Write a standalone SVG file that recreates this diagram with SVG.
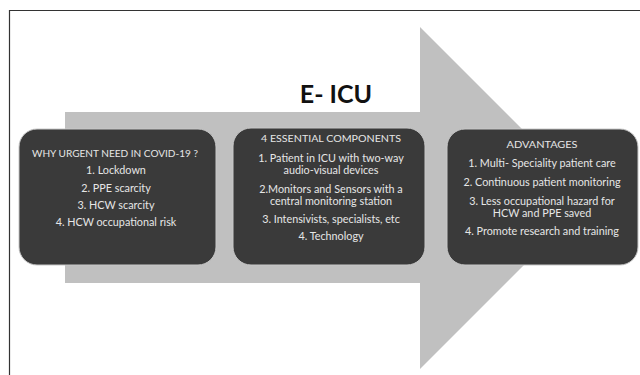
<svg xmlns="http://www.w3.org/2000/svg" width="640" height="375" viewBox="0 0 640 375">
<style>
.box{fill:#3a3a3a;stroke:#c8c8c8;stroke-width:1}
.t{font-family:Lato,"Liberation Sans",sans-serif;font-size:10.8px;fill:#e6e6e6;text-anchor:middle}
.h{font-size:10.4px}
.title{font-family:Lato,"Liberation Sans",sans-serif;font-size:25px;font-weight:bold;fill:#111;text-anchor:middle}
</style>
<rect width="640" height="375" fill="#fff"/>
<path d="M9.5 375 V10.5 H640" fill="none" stroke="#333" stroke-width="1.2"/>
<g id="arrow">
<polygon points="65,112 420,112 420,27 591,198 420,369 420,283 65,283" fill="#c0c0c0"/>
<text class="title" x="336" y="103">E- ICU</text>
</g>
<g id="box1">
<rect class="box" x="19" y="129" width="197" height="136" rx="18"/>
<text class="t h" x="115" y="157" textLength="166" lengthAdjust="spacingAndGlyphs">WHY URGENT NEED IN COVID-19 ?</text>
<text class="t" x="116" y="174">1. Lockdown</text>
<text class="t" x="116" y="192">2. PPE scarcity</text>
<text class="t" x="116" y="209">3. HCW scarcity</text>
<text class="t" x="116" y="226">4. HCW occupational risk</text>
</g>
<g id="box2">
<rect class="box" x="233" y="128" width="192" height="137" rx="18"/>
<text class="t h" x="331" y="142" textLength="140" lengthAdjust="spacingAndGlyphs">4 ESSENTIAL COMPONENTS</text>
<text class="t" x="331" y="161.5">1. Patient in ICU with two-way</text>
<text class="t" x="331" y="174">audio-visual devices</text>
<text class="t" x="331" y="192.5">2.Monitors and Sensors with a</text>
<text class="t" x="331" y="205">central monitoring station</text>
<text class="t" x="331" y="223">3. Intensivists, specialists, etc</text>
<text class="t" x="331" y="240">4. Technology</text>
</g>
<g id="box3">
<rect class="box" x="447" y="129" width="191" height="136" rx="18"/>
<text class="t h" x="542" y="148" textLength="71" lengthAdjust="spacingAndGlyphs">ADVANTAGES</text>
<text class="t" x="542" y="167">1. Multi- Speciality patient care</text>
<text class="t" x="542" y="186">2. Continuous patient monitoring</text>
<text class="t" x="542" y="204.5">3. Less occupational hazard for</text>
<text class="t" x="542" y="217">HCW and PPE saved</text>
<text class="t" x="542" y="234.5">4. Promote research and training</text>
</g>
<g id="connectors"></g>
</svg>
